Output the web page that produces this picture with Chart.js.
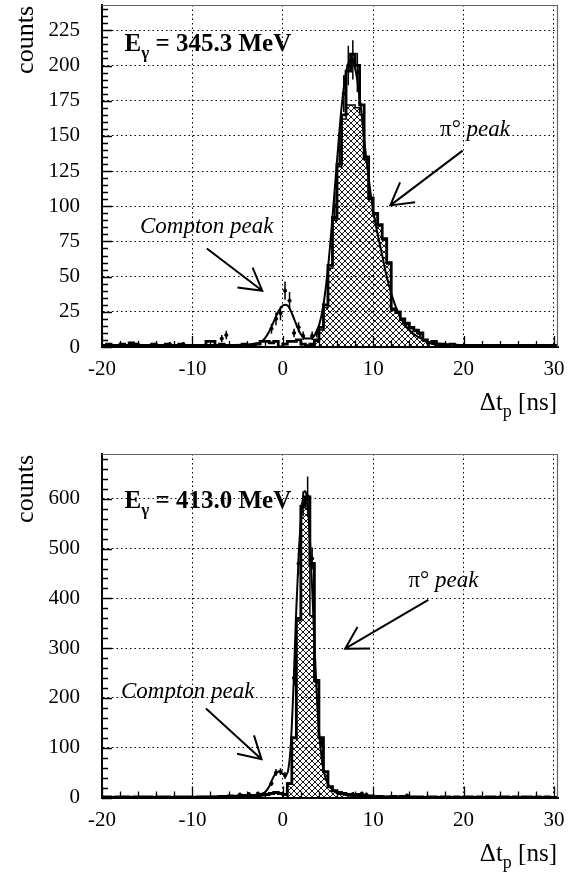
<!DOCTYPE html>
<html>
<head>
<meta charset="UTF-8">
<title>Delta t_p spectra</title>
<script src="https://cdn.jsdelivr.net/npm/chart.js"></script>
<style>
  html, body { margin: 0; padding: 0; background: #fff; }
  #wrap { position: relative; width: 575px; height: 874px; }
  canvas { position: absolute; left: 0; }
</style>
</head>
<body>
<div id="wrap">
  <canvas id="top" width="575" height="437" style="top:0px"></canvas>
  <canvas id="bottom" width="575" height="437" style="top:437px"></canvas>
</div>
<script>
// ---- data ----
const BIN = 0.5; // ns per bin

const xTickLabels = [-20, -10, 0, 10, 20, 30];
const yTickLabels1 = [0, 25, 50, 75, 100, 125, 150, 175, 200, 225];
const yTickLabels2 = [0, 100, 200, 300, 400, 500, 600];

// top panel, E_gamma = 345.3 MeV
const dataStart1 = -20;
const dataCounts1 = [
  1, 2, 1, 1, 2, 1, 3, 2, 1, 1,
  1, 2, 1, 1, 2, 1, 1, 2, 1, 1,
  0, 1, 1, 4, 4, 1, 2, 1, 0, 1,
  1, 2, 1, 1, 2, 4, 4, 3, 4, 0,
  2, 4, 4, 5, 2, 1, 2, 5, 14, 30,
  58, 92, 130, 165, 196, 208, 200, 172, 135, 106,
  95, 87, 77, 60, 27, 25, 20, 17, 14, 12,
  10, 5, 3, 4, 2, 2, 1, 2, 1, 1,
  1, 0, 1, 1, 0, 1, 0, 1, 1, 0,
  1, 0, 1, 1, 0, 1, 0, 1, 1, 0
];
const simStart1 = 3.0;
const simCounts1 = [1, 4, 12, 28, 56, 90, 128, 162, 172, 172, 170, 165, 133, 105, 94, 86, 76, 59, 26, 24, 19, 16, 13, 11, 9, 4, 3, 2, 1, 1];
const fitT1 = [-20, -15, -10, -6, -4, -3, -2.5, -2, -1.5, -1, -0.5, 0, 0.3, 0.6, 1, 1.5, 2, 2.5, 3, 3.5, 4, 4.5, 5, 5.5, 6, 6.5, 7, 7.5, 8, 8.5, 9, 9.5, 10, 10.5, 11, 11.5, 12, 13, 14, 15, 16, 17, 18, 20, 25, 30.5];
const fitC1 = [1.5, 1.5, 1.5, 1.5, 1.8, 2.5, 3.5, 6, 11, 18, 25, 29.5, 30, 29, 24, 16, 9, 6, 6, 8, 15, 30, 56, 92, 132, 170, 195, 204, 198, 178, 148, 120, 97, 80, 65, 50, 38, 21, 12, 7, 4, 2.5, 2, 1.5, 1.5, 1.5];
const errT1 = [-16.5, -12.5, -11, -6.75, -6.25, -1.25, -0.75, -0.25, 0.25, 0.75, 1.25, 1.75, 2.25, 3.25, 3.75, 5.75, 6.25, 6.75, 7.25, 7.75, 8.25];
const errC1 = [2, 2, 2, 6, 8.5, 13, 20, 24, 40, 33, 10, 14, 8, 8, 10, 100, 140, 180, 200, 204, 195];
const errE1 = [1.5, 1.5, 1.5, 2.5, 3, 3.5, 4.5, 5, 6.5, 6, 3, 3.5, 3, 3, 3, 10, 12, 13, 14, 14, 14];

// bottom panel, E_gamma = 413.0 MeV
const dataStart2 = -20;
const dataCounts2 = [
  1, 1, 0, 1, 1, 1, 0, 1, 1, 1,
  1, 0, 1, 1, 1, 0, 1, 1, 1, 1,
  0, 1, 1, 1, 1, 1, 2, 2, 3, 2,
  3, 4, 3, 4, 4, 5, 6, 8, 10, 8,
  6, 28, 120, 360, 585, 604, 470, 235, 120, 52,
  22, 14, 10, 8, 6, 5, 6, 4, 3, 3,
  2, 2, 1, 1, 2, 1, 2, 1, 1, 1,
  1, 0, 1, 1, 0, 1, 1, 0, 1, 0,
  1, 1, 0, 1, 0, 1, 1, 0, 1, 1,
  0, 1, 0, 1, 1, 0, 1, 0, 1, 0
];
const simStart2 = 0.5;
const simCounts2 = [29, 119, 355, 582, 600, 365, 232, 119, 50, 20, 12, 8, 6, 4, 3, 2, 1];
const fitT2 = [-20, -10, -6, -4, -3, -2.5, -2, -1.5, -1, -0.5, 0, 0.3, 0.6, 0.9, 1.2, 1.5, 1.8, 2.1, 2.4, 2.7, 3, 3.3, 3.6, 3.9, 4.2, 4.5, 5, 5.5, 6, 7, 8, 9, 10, 12, 15, 30.5];
const fitC2 = [1, 1, 2, 3.5, 5, 7, 10, 22, 42, 52, 48, 45, 55, 110, 230, 380, 500, 580, 615, 600, 520, 400, 270, 160, 95, 55, 28, 16, 10, 6, 4, 3, 2, 1.5, 1, 1];
const errT2 = [-4.75, -3.75, -2.75, -1.25, -0.75, -0.25, 0.25, 1.25, 1.75, 2.25, 2.75, 3.25, 4.25, 7.75, 8.75, 9.25, 13.75];
const errC2 = [6, 7, 8, 28, 50, 52, 44, 240, 470, 590, 605, 480, 110, 7, 8, 6, 4];
const errE2 = [2.5, 2.5, 3, 5, 7, 7, 7, 16, 22, 25, 40, 22, 10, 3, 3, 2.5, 2];

// ---- helpers ----
const serif = "'Liberation Serif', 'Times New Roman', serif";

function histPoints(start, counts) {
  const pts = [{x: start, y: 0}];
  counts.forEach((c, i) => pts.push({x: start + i * BIN, y: c}));
  const end = start + counts.length * BIN;
  pts.push({x: end, y: counts[counts.length - 1]});
  pts.push({x: end, y: 0});
  return pts;
}

function hatchPattern() {
  const c = document.createElement('canvas');
  c.width = 6; c.height = 6;
  const g = c.getContext('2d');
  g.strokeStyle = '#000';
  g.lineWidth = 0.9;
  g.beginPath();
  g.moveTo(-1, -1); g.lineTo(7, 7);
  g.moveTo(7, -1); g.lineTo(-1, 7);
  g.stroke();
  return g.createPattern(c, 'repeat');
}

function drawParts(ctx, x, y, parts) {
  let cx = x;
  parts.forEach(p => {
    ctx.font = p.f;
    ctx.fillText(p.t, cx, y + (p.dy || 0));
    cx += ctx.measureText(p.t).width;
  });
}

function arrow(ctx, x0, y0, x1, y1) {
  const ang = Math.atan2(y0 - y1, x0 - x1);
  const L = 25, w = Math.PI / 6;
  ctx.beginPath();
  ctx.moveTo(x0, y0); ctx.lineTo(x1, y1);
  ctx.moveTo(x1 + L * Math.cos(ang - w), y1 + L * Math.sin(ang - w));
  ctx.lineTo(x1, y1);
  ctx.lineTo(x1 + L * Math.cos(ang + w), y1 + L * Math.sin(ang + w));
  ctx.stroke();
}

// frame, inner ticks, error bars, texts and arrows
const decor = {
  id: 'decor',
  afterDatasetsDraw(chart, args, o) {
    const {ctx, chartArea: a, scales: {x, y}} = chart;
    ctx.save();

    // error bars
    ctx.save();
    ctx.beginPath();
    ctx.rect(a.left, a.top, a.right - a.left, a.bottom - a.top);
    ctx.clip();
    ctx.strokeStyle = '#000';
    ctx.lineWidth = 1.5;
    chart.data.datasets.forEach(ds => {
      if (!ds.errorBars) return;
      ctx.beginPath();
      ds.data.forEach(p => {
        const px = x.getPixelForValue(p.x);
        ctx.moveTo(px, y.getPixelForValue(p.y - p.e));
        ctx.lineTo(px, y.getPixelForValue(p.y + p.e));
      });
      ctx.stroke();
    });
    ctx.restore();

    // top and right frame
    ctx.strokeStyle = '#666';
    ctx.lineWidth = 1.2;
    ctx.beginPath();
    ctx.moveTo(a.left, a.top + 0.5);
    ctx.lineTo(a.right - 0.5, a.top + 0.5);
    ctx.lineTo(a.right - 0.5, a.bottom);
    ctx.stroke();

    // ticks drawn inside the frame
    ctx.strokeStyle = '#000';
    ctx.lineWidth = 1.3;
    ctx.beginPath();
    for (let k = Math.ceil(x.min / o.xMinor); k * o.xMinor <= x.max; k++) {
      const v = k * o.xMinor;
      const len = (v % o.xMajor === 0) ? 11 : 6;
      const px = Math.round(x.getPixelForValue(v)) + 0.5;
      ctx.moveTo(px, a.bottom);
      ctx.lineTo(px, a.bottom - len);
    }
    for (let k = 0; k * o.yMinor <= y.max; k++) {
      const v = k * o.yMinor;
      const len = (v % o.yMajor === 0) ? 10 : 6;
      const py = Math.round(y.getPixelForValue(v)) + 0.5;
      ctx.moveTo(a.left, py);
      ctx.lineTo(a.left + len, py);
    }
    ctx.stroke();

    ctx.fillStyle = '#000';
    ctx.textBaseline = 'alphabetic';
    ctx.textAlign = 'left';

    // annotation texts
    o.labels.forEach(l => {
      drawParts(ctx, x.getPixelForValue(l.x), y.getPixelForValue(l.y), l.parts);
    });

    // arrows
    ctx.lineWidth = 2;
    o.arrows.forEach(r => {
      arrow(ctx, x.getPixelForValue(r.from[0]), y.getPixelForValue(r.from[1]),
                 x.getPixelForValue(r.to[0]), y.getPixelForValue(r.to[1]));
    });

    // y title "counts", reading upwards, ending near the top of the frame
    ctx.save();
    ctx.translate(33, a.top + 1);
    ctx.rotate(-Math.PI / 2);
    ctx.textAlign = 'right';
    ctx.font = '26px ' + serif;
    ctx.fillText('counts', 0, 0);
    ctx.restore();

    // x title  Δt_p [ns]
    const parts = [
      {t: '\u0394t', f: '25px ' + serif},
      {t: 'p', f: '18px ' + serif, dy: 7},
      {t: ' [ns]', f: '25px ' + serif}
    ];
    let w = 0;
    parts.forEach(p => { ctx.font = p.f; w += ctx.measureText(p.t).width; });
    drawParts(ctx, a.right - 1 - w, a.bottom + 63, parts);

    ctx.restore();
  }
};

function makePanel(id, p) {
  const hatch = hatchPattern();
  return new Chart(document.getElementById(id), {
    type: 'line',
    data: {
      datasets: [
        {
          // data points with error bars
          type: 'scatter',
          data: p.errT.map((t, i) => ({x: t, y: p.errC[i], e: p.errE[i]})),
          errorBars: true,
          pointRadius: 1.6,
          pointBackgroundColor: '#000',
          pointBorderColor: '#000',
          order: 1
        },
        {
          // fit curve
          data: p.fitT.map((t, i) => ({x: t, y: p.fitC[i]})),
          borderColor: '#000',
          borderWidth: 2,
          pointRadius: 0,
          cubicInterpolationMode: 'monotone',
          fill: false,
          order: 2
        },
        {
          // measured histogram
          data: histPoints(p.dataStart, p.dataCounts),
          stepped: 'before',
          borderColor: '#000',
          borderWidth: 2.8,
          pointRadius: 0,
          fill: false,
          order: 3
        },
        {
          // hatched histogram
          data: histPoints(p.simStart, p.simCounts),
          stepped: 'before',
          borderColor: '#000',
          borderWidth: 1.5,
          backgroundColor: hatch,
          pointRadius: 0,
          fill: 'origin',
          order: 4
        }
      ]
    },
    options: {
      responsive: false,
      animation: false,
      events: [],
      layout: { padding: { left: 0, right: 17, top: p.padTop, bottom: 0 } },
      plugins: {
        legend: { display: false },
        tooltip: { enabled: false },
        decor: {
          xMinor: 2, xMajor: 10,
          yMinor: p.yMinor, yMajor: p.yMajor,
          labels: p.labels,
          arrows: p.arrows
        }
      },
      scales: {
        x: {
          type: 'linear',
          min: -20,
          max: 30.45,
          afterBuildTicks: s => { s.ticks = xTickLabels.map(v => ({value: v})); },
          afterFit: s => { s.height = p.axisH; s.paddingLeft = 0; s.paddingRight = 0; },
          grid: { color: '#000', lineWidth: 1, drawTicks: false },
          border: { display: true, color: '#000', width: 2, dash: [1.5, 3] },
          ticks: {
            color: '#000',
            font: { family: serif, size: 21 },
            padding: 10,
            maxRotation: 0,
            autoSkip: false
          }
        },
        y: {
          type: 'linear',
          min: 0,
          max: p.yMax,
          afterBuildTicks: s => { s.ticks = p.yTicks.map(v => ({value: v})); },
          afterFit: s => { s.width = 102; s.paddingTop = 0; s.paddingBottom = 0; },
          grid: { color: '#000', lineWidth: 1, drawTicks: false },
          border: { display: true, color: '#000', width: 2, dash: [1.5, 3] },
          ticks: {
            color: '#000',
            font: { family: serif, size: 21 },
            padding: 22,
            autoSkip: false
          }
        }
      }
    },
    plugins: [decor]
  });
}

makePanel('top', {
  dataStart: dataStart1, dataCounts: dataCounts1,
  simStart: simStart1, simCounts: simCounts1,
  fitT: fitT1, fitC: fitC1,
  errT: errT1, errC: errC1, errE: errE1,
  yMax: 243, yTicks: yTickLabels1, yMinor: 5, yMajor: 25,
  padTop: 4, axisH: 90,
  labels: [
    {x: -17.5, y: 210, parts: [
      {t: 'E', f: 'bold 25px ' + serif},
      {t: '\u03b3', f: 'bold 17px ' + serif, dy: 7},
      {t: ' = 345.3 MeV', f: 'bold 25px ' + serif}]},
    {x: -15.8, y: 81, parts: [{t: 'Compton peak', f: 'italic 23px ' + serif}]},
    {x: 17.4, y: 150, parts: [
      {t: '\u03c0\u00b0', f: '23px ' + serif},
      {t: ' peak', f: 'italic 23px ' + serif}]}
  ],
  arrows: [
    {from: [-8.4, 70], to: [-2.27, 40]},
    {from: [19.9, 139.5], to: [11.9, 100.6]}
  ]
});

makePanel('bottom', {
  dataStart: dataStart2, dataCounts: dataCounts2,
  simStart: simStart2, simCounts: simCounts2,
  fitT: fitT2, fitC: fitC2,
  errT: errT2, errC: errC2, errE: errE2,
  yMax: 690, yTicks: yTickLabels2, yMinor: 20, yMajor: 100,
  padTop: 17, axisH: 76.5,
  labels: [
    {x: -17.5, y: 582, parts: [
      {t: 'E', f: 'bold 25px ' + serif},
      {t: '\u03b3', f: 'bold 17px ' + serif, dy: 7},
      {t: ' = 413.0 MeV', f: 'bold 25px ' + serif}]},
    {x: -17.9, y: 199, parts: [{t: 'Compton peak', f: 'italic 23px ' + serif}]},
    {x: 13.9, y: 422, parts: [
      {t: '\u03c0\u00b0', f: '23px ' + serif},
      {t: ' peak', f: 'italic 23px ' + serif}]}
  ],
  arrows: [
    {from: [-8.5, 179], to: [-2.35, 77]},
    {from: [16.1, 397], to: [6.9, 299]}
  ]
});
</script>
</body>
</html>
